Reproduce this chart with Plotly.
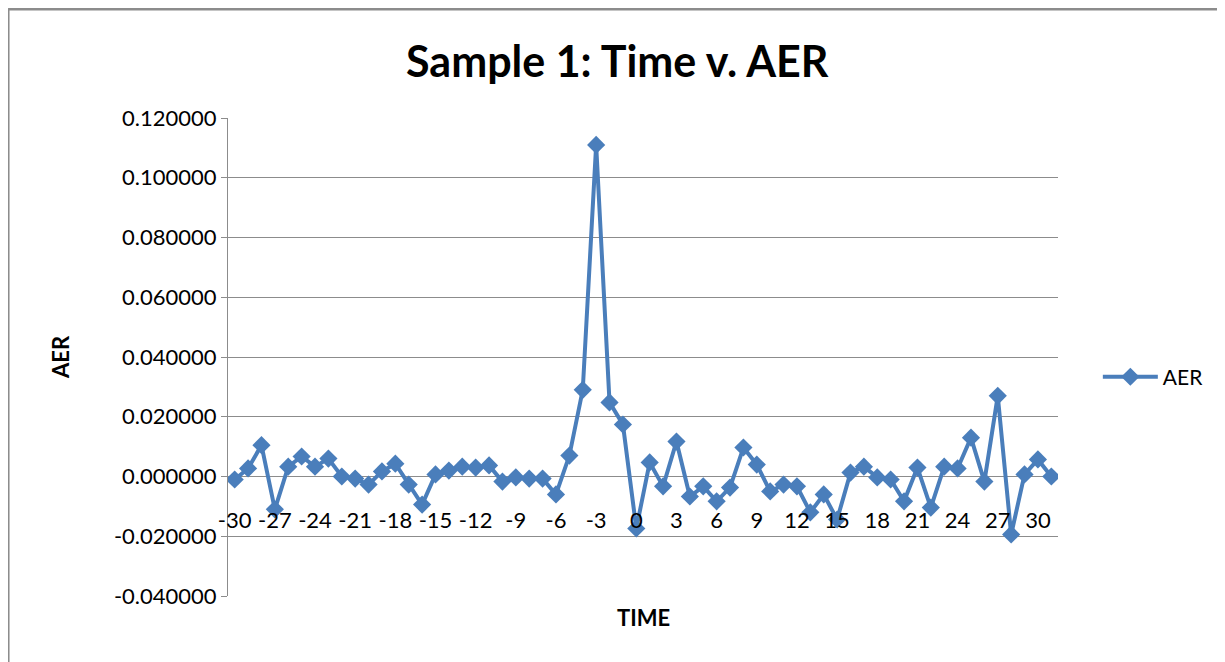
import plotly.graph_objects as go

time = list(range(-30, 32))
aer = [-0.0010, 0.0027, 0.0105, -0.0110, 0.0033, 0.0067, 0.0033, 0.0060,
       0.0000, -0.0007, -0.0027, 0.0017, 0.0043, -0.0027, -0.0094, 0.0007,
       0.0020, 0.0033, 0.0030, 0.0037, -0.0017, -0.0003, -0.0007, -0.0007,
       -0.0060, 0.0070, 0.0290, 0.1110, 0.0248, 0.0174, -0.0174, 0.0047,
       -0.0033, 0.0117, -0.0067, -0.0033, -0.0083, -0.0037, 0.0097, 0.0040,
       -0.0050, -0.0027, -0.0033, -0.0120, -0.0060, -0.0144, 0.0013, 0.0033,
       -0.0003, -0.0010, -0.0083, 0.0030, -0.0104, 0.0033, 0.0027, 0.0130,
       -0.0017, 0.0270, -0.0194, 0.0007, 0.0057, 0.0000]
x_ticks = list(range(-30, 31, 3))
y_ticks = [-0.04, -0.02, 0.0, 0.02, 0.04, 0.06, 0.08, 0.10, 0.12]

FONT = "Lato"
BLUE = "#4a7ebb"
GRID = "#8c8c8c"

fig = go.Figure()
fig.add_trace(go.Scatter(
    x=time, y=aer, mode="lines+markers", name="AER",
    line=dict(color=BLUE, width=4),
    marker=dict(symbol="diamond", size=14, color=BLUE),
))

fig.update_layout(
    width=1225, height=662,
    paper_bgcolor="white", plot_bgcolor="white",
    margin=dict(l=220, r=175, t=110, b=74),
    font=dict(family=FONT, color="#000000"),
    showlegend=True,
    legend=dict(x=1.048, y=0.458, xanchor="left", yanchor="middle",
                itemwidth=55, font=dict(size=21, family=FONT),
                bgcolor="rgba(0,0,0,0)"),
    xaxis=dict(
        range=[-30.5, 31.5], tickmode="array", tickvals=x_ticks,
        ticktext=[str(v) for v in x_ticks],
        anchor="free", position=0.25, showgrid=False, zeroline=False,
        showline=False, ticks="outside", ticklen=24,
        tickcolor="rgba(0,0,0,0)", tickfont=dict(size=22, family=FONT),
        title=None,
    ),
    yaxis=dict(
        range=[-0.04, 0.12], tickmode="array", tickvals=y_ticks,
        ticktext=[f"{v:.6f}" for v in y_ticks],
        showgrid=True, gridcolor=GRID, gridwidth=1, zeroline=False,
        showline=True, linecolor=GRID, linewidth=1,
        ticks="outside", ticklen=6, tickcolor=GRID,
        tickfont=dict(size=22, family=FONT),
        title=None,
    ),
)

fig.add_annotation(text="<b>Sample 1: Time v. AER</b>", xref="paper", yref="paper",
                   x=0.4687, y=1.121, xanchor="center", yanchor="middle",
                   showarrow=False, font=dict(size=43, family=FONT))
fig.add_annotation(text="<b>AER</b>", xref="paper", yref="paper",
                   x=-0.2024, y=0.5, xanchor="center", yanchor="middle",
                   textangle=-90, showarrow=False, font=dict(size=22, family=FONT))
fig.add_annotation(text="<b>TIME</b>", xref="paper", yref="paper",
                   x=0.5, y=-0.044, xanchor="center", yanchor="middle",
                   showarrow=False, font=dict(size=22, family=FONT))

# outer chart frame (left and top)
fig.add_shape(type="line", xref="paper", yref="paper",
              x0=-0.265, x1=-0.265, y0=-0.2, y1=1.228,
              line=dict(color=GRID, width=3))
fig.add_shape(type="line", xref="paper", yref="paper",
              x0=-0.265, x1=1.25, y0=1.228, y1=1.228,
              line=dict(color=GRID, width=3))

fig.write_html("out.html")
